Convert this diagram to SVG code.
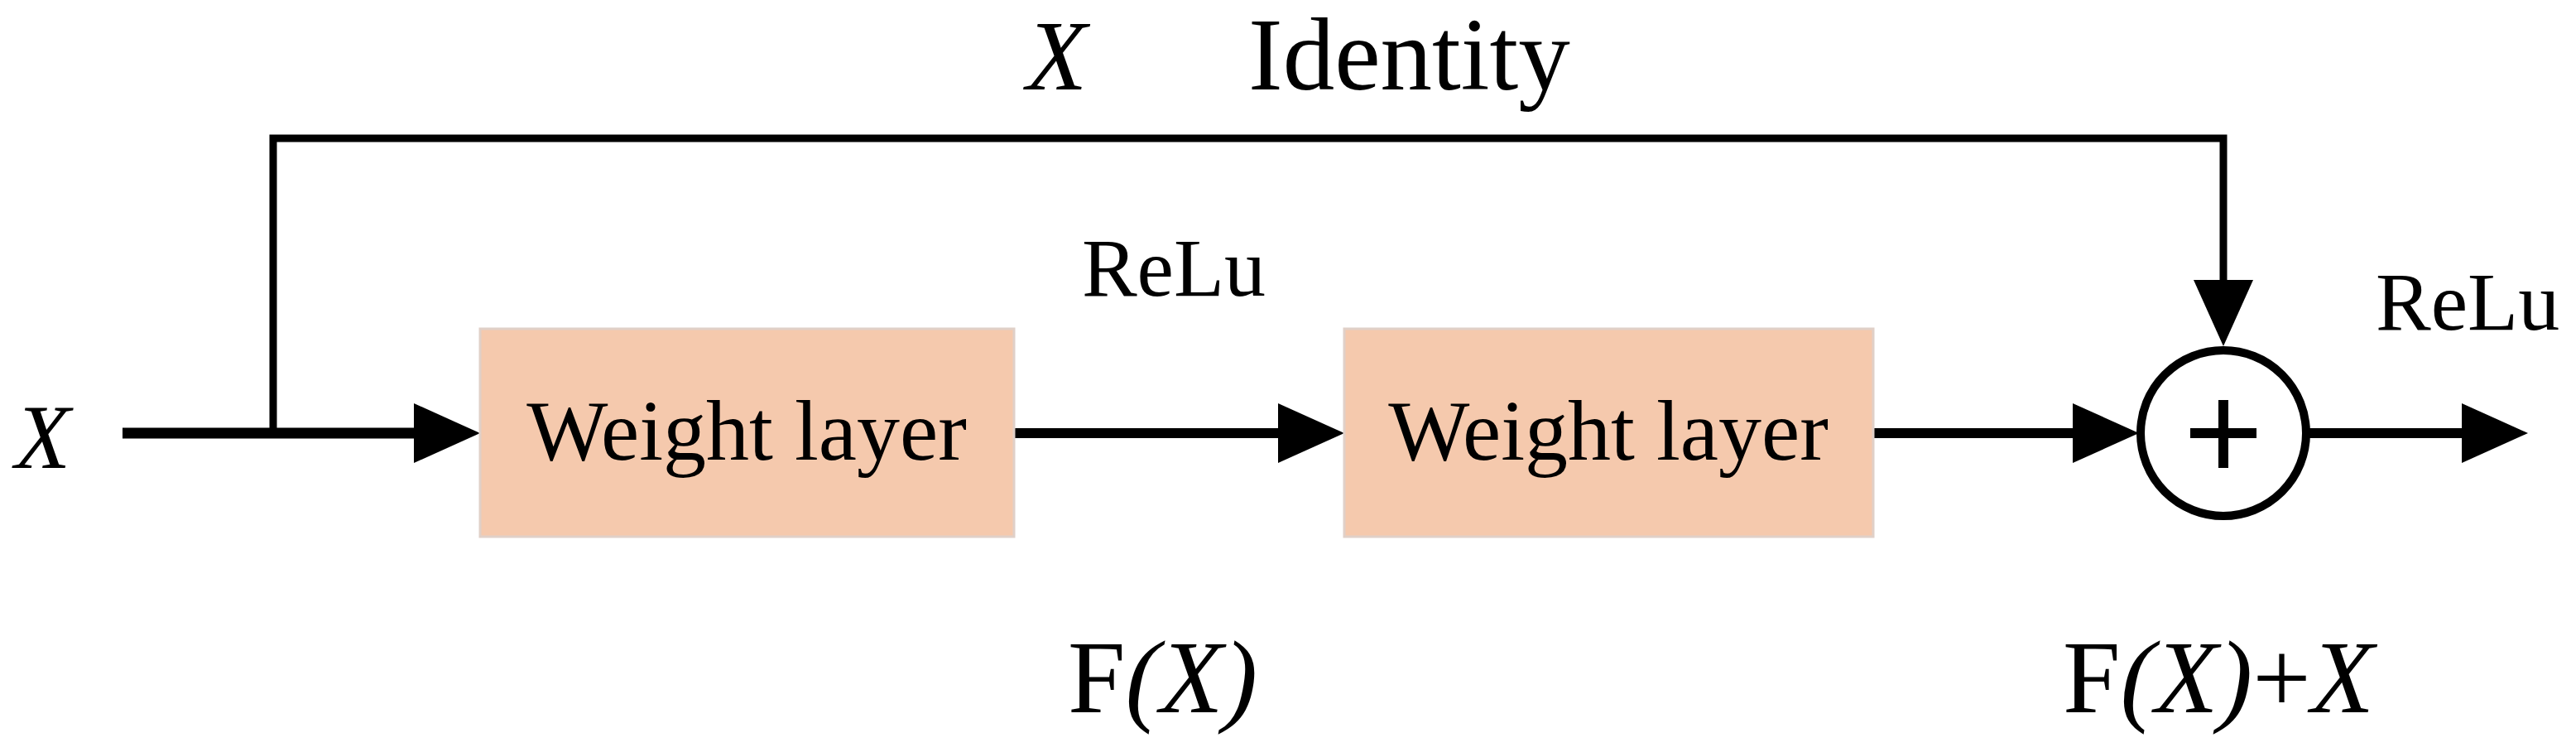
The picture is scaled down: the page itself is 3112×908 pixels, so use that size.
<svg xmlns="http://www.w3.org/2000/svg" width="3112" height="908" viewBox="0 0 3112 908">
<style>
text{font-family:"Liberation Serif","Times New Roman",serif;fill:#000}
.ln{stroke:#000;fill:none}
.box{fill:#f5c9ad;stroke:#e0d0c8;stroke-width:3}
</style>
<defs><marker id="ah" markerUnits="userSpaceOnUse" markerWidth="80" markerHeight="72" refX="40" refY="36" orient="auto"><path d="M0,0 L80,36 L0,72 Z" fill="#000"/></marker></defs>
<rect width="3112" height="908" fill="#fff"/>
<g id="connectors">
<path class="ln" stroke-width="13" d="M148,523 H540" marker-end="url(#ah)"/>
<path class="ln" stroke-width="9" d="M330,523 V167 H2686 V378" marker-end="url(#ah)"/>
<path class="ln" stroke-width="12" d="M1225,523 H1584" marker-end="url(#ah)"/>
<path class="ln" stroke-width="12" d="M2263,523 H2544" marker-end="url(#ah)"/>
<path class="ln" stroke-width="12" d="M2788,523 H3014" marker-end="url(#ah)"/>
</g>
<g id="input"><text x="18" y="565" font-size="110" font-style="italic">X</text></g>
<g id="w1"><rect class="box" x="580" y="397" width="645" height="251"/><text x="902" y="555" font-size="104" text-anchor="middle">Weight layer</text></g>
<g id="w2"><rect class="box" x="1624" y="397" width="639" height="251"/><text x="1943" y="555" font-size="104" text-anchor="middle">Weight layer</text></g>
<g id="sum"><circle cx="2686" cy="523" r="100" fill="#fff" stroke="#000" stroke-width="10"/><path class="ln" stroke-width="12" d="M2646,523 H2726 M2686,483 V565"/></g>
<g id="labels">
<text x="1240" y="108" font-size="120" font-style="italic">X</text>
<text x="1508" y="108" font-size="125">Identity</text>
<text x="1418" y="357" font-size="100" text-anchor="middle">ReLu</text>
<text x="2870" y="398" font-size="100">ReLu</text>
<text x="1290" y="860" font-size="125">F<tspan font-style="italic">(X)</tspan></text>
<text x="2492" y="860" font-size="125">F<tspan font-style="italic">(X)</tspan>+<tspan font-style="italic">X</tspan></text>
</g>
</svg>
